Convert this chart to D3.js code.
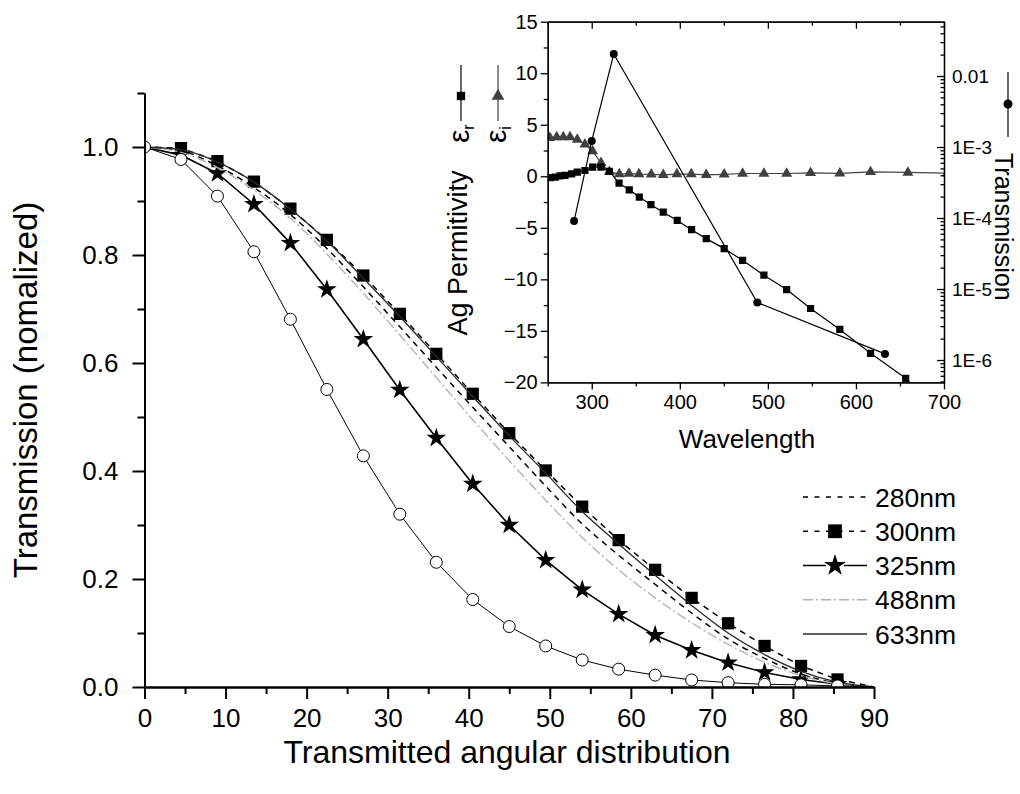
<!DOCTYPE html>
<html><head><meta charset="utf-8">
<script src="https://cdn.jsdelivr.net/npm/d3@7"></script>
<style>
body{margin:0;background:#fff}
svg{display:block}
text{font-family:"Liberation Sans",Arial,Helvetica,sans-serif;fill:#000}
</style>
</head><body>
<svg id="c" width="1020" height="794"></svg>
<script>
// ---------------- main chart data ----------------
const angles = [0,4.5,9,13.5,18,22.5,27,31.5,36,40.5,45,49.5,54,58.5,63,67.5,72,76.5,81,85.5,90];
const t280 = [1.0,0.993,0.965,0.925,0.875,0.812,0.741,0.667,0.592,0.518,0.445,0.372,0.302,0.244,0.190,0.137,0.089,0.053,0.024,0.007,0];
const t300 = [1.0,0.998,0.974,0.936,0.886,0.828,0.762,0.691,0.617,0.543,0.470,0.401,0.334,0.272,0.217,0.165,0.118,0.076,0.039,0.014,0];
const t325 = [1.0,0.985,0.951,0.894,0.822,0.736,0.644,0.550,0.461,0.376,0.300,0.235,0.180,0.135,0.096,0.068,0.045,0.027,0.014,0.005,0];
const t488 = [1.0,0.990,0.962,0.920,0.868,0.802,0.729,0.652,0.573,0.495,0.419,0.346,0.277,0.217,0.165,0.119,0.079,0.046,0.021,0.006,0];
const t633 = [1.0,0.995,0.972,0.935,0.885,0.826,0.757,0.686,0.612,0.538,0.465,0.396,0.325,0.265,0.207,0.151,0.100,0.060,0.029,0.009,0];
const tOpen = [1.0,0.977,0.909,0.806,0.681,0.551,0.428,0.320,0.231,0.162,0.112,0.076,0.050,0.033,0.022,0.013,0.008,0.005,0.004,0.002,0];
const xMajor = [0,10,20,30,40,50,60,70,80,90];
const xMinor = [5,15,25,35,45,55,65,75,85];
const yMajor = [0,0.2,0.4,0.6,0.8,1.0];
const yMinor = [0.1,0.3,0.5,0.7,0.9,1.1];
const legendLabels = ["280nm","300nm","325nm","488nm","633nm"];

// ---------------- inset data ----------------
const erWl = [252.6,258.6,264,269.6,277.2,283.6,292.3,301,310.5,320,331,342.6,354,367.2,381.2,397.1,413.4,430,450.4,471.3,495.5,521.3,548.5,581.7,616.6,656.5,700];
const erVal = [-0.14,-0.09,0.03,0.08,0.24,0.40,0.56,0.88,0.88,0.49,-0.67,-1.31,-2.02,-2.76,-3.48,-4.28,-5.18,-6.05,-7.02,-8.15,-9.6,-10.99,-12.83,-14.86,-17.18,-19.6,-23.4];
const eiWl = [252.6,260.2,267.7,275.3,283.6,292.3,301,310.5,320,331.3,342.3,353.6,367.6,381.2,396.7,413,430,450.4,471.3,495.5,521.3,548.5,581.7,616.6,659,704];
const eiVal = [3.74,3.80,3.80,3.80,3.57,3.10,2.45,1.30,0.43,0.21,0.27,0.21,0.19,0.14,0.21,0.21,0.14,0.19,0.27,0.27,0.27,0.34,0.29,0.42,0.37,0.30];
const trWl = [280,300,325,488,633];
const trVal = [9.1e-5,1.22e-3,2.04e-2,6.45e-6,1.22e-6];
const insXMajor = [300,400,500,600,700];
const insXMinor = [250,350,450,550,650];
const insYMajor = [15,10,5,0,-5,-10,-15,-20];
const insYMinor = [12.5,7.5,2.5,-2.5,-7.5,-12.5,-17.5];
const logMajor = [1e-2,1e-3,1e-4,1e-5,1e-6];
const logLabels = ["0.01","1E-3","1E-4","1E-5","1E-6"];

const svg = d3.select("#c");

// ================= MAIN =================
const x = d3.scaleLinear([0,90],[144.5,874]);
const y = d3.scaleLinear([0,1.1],[687,93]);

svg.append("clipPath").attr("id","mainClip").append("rect")
  .attr("x",x(0)).attr("y",y(1.1)-10).attr("width",x(90)-x(0)+10).attr("height",y(0)-y(1.1)+10);

const gData = svg.append("g").attr("clip-path","url(#mainClip)");

const series = [
  {vals:t280, color:"#000", w:1.5, dash:"6,5", curve:d3.curveMonotoneX},
  {vals:t300, color:"#000", w:1.5, dash:"6,5", curve:d3.curveLinear, marker:"square"},
  {vals:t325, color:"#000", w:1.6, dash:null, curve:d3.curveLinear, marker:"star"},
  {vals:t488, color:"#b4b4b4", w:1.4, dash:"10,3,2,3", curve:d3.curveMonotoneX},
  {vals:t633, color:"#2a2a2a", w:1.3, dash:null, curve:d3.curveMonotoneX},
  {vals:tOpen, color:"#000", w:1.0, dash:null, curve:d3.curveLinear, marker:"circle"}
];
const symSquare = d3.symbol().type(d3.symbolSquare).size(150);
const symStar = d3.symbol().type(d3.symbolStar).size(120);

series.forEach(s=>{
  const pts = angles.map((a,i)=>[a,s.vals[i]]);
  gData.append("path").datum(pts)
    .attr("d", d3.line().x(d=>x(d[0])).y(d=>y(d[1])).curve(s.curve))
    .attr("fill","none").attr("stroke",s.color).attr("stroke-width",s.w)
    .attr("stroke-dasharray",s.dash);
  if(s.marker==="square"||s.marker==="star"){
    const mp = pts.filter(d=>d[0]>0 && d[0]<90);
    gData.selectAll(null).data(mp).enter().append("path")
      .attr("transform",d=>`translate(${x(d[0])},${y(d[1])})`)
      .attr("d", s.marker==="square"?symSquare():symStar())
      .attr("fill","#000");
  }
  if(s.marker==="circle"){
    const mp = pts.filter(d=>d[0]<90);
    gData.selectAll(null).data(mp).enter().append("circle")
      .attr("cx",d=>x(d[0])).attr("cy",d=>y(d[1])).attr("r",6)
      .attr("fill","#fff").attr("stroke","#000").attr("stroke-width",1);
  }
});

// main axes
function styleAxis(g, sw){
  g.selectAll(".domain").attr("stroke","#000").attr("stroke-width",sw);
  g.selectAll(".tick line").attr("stroke","#000").attr("stroke-width",sw);
}
const gxMin = svg.append("g").attr("transform",`translate(0,${y(0)})`)
  .call(d3.axisBottom(x).tickValues(xMinor).tickSize(7).tickSizeOuter(0).tickFormat(""));
styleAxis(gxMin,2);
const gx = svg.append("g").attr("transform",`translate(0,${y(0)})`)
  .call(d3.axisBottom(x).tickValues(xMajor).tickSize(12).tickSizeOuter(0).tickPadding(10).tickFormat(d3.format("d")));
styleAxis(gx,2);
gx.selectAll("text").attr("font-size",26).attr("font-family",null);

const gyMin = svg.append("g").attr("transform",`translate(${x(0)},0)`)
  .call(d3.axisLeft(y).tickValues(yMinor).tickSize(7).tickSizeOuter(0).tickFormat(""));
styleAxis(gyMin,2);
const gy = svg.append("g").attr("transform",`translate(${x(0)},0)`)
  .call(d3.axisLeft(y).tickValues(yMajor).tickSize(12).tickSizeOuter(0).tickPadding(14).tickFormat(d3.format(".1f")));
styleAxis(gy,2);
gy.selectAll("text").attr("font-size",26).attr("font-family",null);

svg.append("text").attr("transform",`translate(37,390) rotate(-90)`)
  .attr("text-anchor","middle").attr("font-size",33).text("Transmission (nomalized)");
svg.append("text").attr("x",507).attr("y",763)
  .attr("text-anchor","middle").attr("font-size",32).text("Transmitted angular distribution");

// main legend
const legY = d3.scaleLinear([0,4],[497,634]);
const legDefs = [
  {dash:"5,6.5", color:"#000", w:1.5},
  {dash:"5,6.5", color:"#000", w:1.5, marker:"square"},
  {dash:null, color:"#000", w:1.6, marker:"star"},
  {dash:"10,3,2,3", color:"#b4b4b4", w:1.4},
  {dash:null, color:"#2a2a2a", w:1.3}
];
legendLabels.forEach((lab,i)=>{
  const cy = legY(i), d = legDefs[i];
  svg.append("line").attr("x1",803).attr("x2",867).attr("y1",cy).attr("y2",cy)
    .attr("stroke",d.color).attr("stroke-width",d.w).attr("stroke-dasharray",d.dash);
  if(d.marker==="square"){
    svg.append("path").attr("transform",`translate(835,${cy})`)
      .attr("d",d3.symbol().type(d3.symbolSquare).size(190)()).attr("fill","#000");
  }
  if(d.marker==="star"){
    svg.append("rect").attr("x",826).attr("y",cy-9).attr("width",18).attr("height",18).attr("fill","#fff");
    svg.append("path").attr("transform",`translate(835,${cy})`)
      .attr("d",d3.symbol().type(d3.symbolStar).size(150)()).attr("fill","#000");
  }
  svg.append("text").attr("x",875).attr("y",cy+9.5).attr("font-size",26.5).text(lab);
});

// ================= INSET =================
const L=547.7, R=944, T=21.7, B=382.4;
const xi = d3.scaleLinear([250,700],[L,R]);
const yi = d3.scaleLinear([-20,15],[B,T]);
const yl = d3.scaleLog([4.84e-7,0.0582],[B,T]);

svg.append("clipPath").attr("id","insClip").append("rect")
  .attr("x",L).attr("y",T).attr("width",R-L).attr("height",B-T);
const gi = svg.append("g").attr("clip-path","url(#insClip)");

// eps_i
gi.append("path").datum(eiWl.map((w,i)=>[w,eiVal[i]]))
  .attr("d",d3.line().x(d=>xi(d[0])).y(d=>yi(d[1])))
  .attr("fill","none").attr("stroke","#444").attr("stroke-width",1.2);
gi.selectAll(null).data(eiWl.map((w,i)=>[w,eiVal[i]])).enter().append("path")
  .attr("transform",d=>`translate(${xi(d[0])},${yi(d[1])})`)
  .attr("d",d3.symbol().type(d3.symbolTriangle).size(52)()).attr("fill","#404040");
// eps_r
gi.append("path").datum(erWl.map((w,i)=>[w,erVal[i]]))
  .attr("d",d3.line().x(d=>xi(d[0])).y(d=>yi(d[1])))
  .attr("fill","none").attr("stroke","#000").attr("stroke-width",1.2);
gi.selectAll(null).data(erWl.map((w,i)=>[w,erVal[i]])).enter().append("path")
  .attr("transform",d=>`translate(${xi(d[0])},${yi(d[1])})`)
  .attr("d",d3.symbol().type(d3.symbolSquare).size(52)()).attr("fill","#000");
// transmission
gi.append("path").datum(trWl.map((w,i)=>[w,trVal[i]]))
  .attr("d",d3.line().x(d=>xi(d[0])).y(d=>yl(d[1])))
  .attr("fill","none").attr("stroke","#000").attr("stroke-width",1.2);
gi.selectAll(null).data(trWl.map((w,i)=>[w,trVal[i]])).enter().append("circle")
  .attr("cx",d=>xi(d[0])).attr("cy",d=>yl(d[1])).attr("r",4).attr("fill","#000");

// inset axes
const SW=1.3;
const ibMin = svg.append("g").attr("transform",`translate(0,${B})`)
  .call(d3.axisBottom(xi).tickValues(insXMinor).tickSize(4).tickSizeOuter(0).tickFormat(""));
styleAxis(ibMin,SW);
const ib = svg.append("g").attr("transform",`translate(0,${B})`)
  .call(d3.axisBottom(xi).tickValues(insXMajor).tickSize(7).tickSizeOuter(0).tickPadding(5).tickFormat(d3.format("d")));
styleAxis(ib,SW);
ib.selectAll("text").attr("font-size",20).attr("font-family",null);

const itMin = svg.append("g").attr("transform",`translate(0,${T})`)
  .call(d3.axisTop(xi).tickValues(insXMinor).tickSize(-4).tickSizeOuter(0).tickFormat(""));
styleAxis(itMin,SW);
const it = svg.append("g").attr("transform",`translate(0,${T})`)
  .call(d3.axisTop(xi).tickValues(insXMajor).tickSize(-7).tickSizeOuter(0).tickFormat(""));
styleAxis(it,SW);

const ilMin = svg.append("g").attr("transform",`translate(${L},0)`)
  .call(d3.axisLeft(yi).tickValues(insYMinor).tickSize(4).tickSizeOuter(0).tickFormat(""));
styleAxis(ilMin,SW);
const il = svg.append("g").attr("transform",`translate(${L},0)`)
  .call(d3.axisLeft(yi).tickValues(insYMajor).tickSize(7).tickSizeOuter(0).tickPadding(3).tickFormat(d3.format("d")));
styleAxis(il,SW);
il.selectAll("text").attr("font-size",20).attr("font-family",null);

const logMinor = [];
[1e-7,1e-6,1e-5,1e-4,1e-3,1e-2].forEach(dec=>{for(let k=2;k<=9;k++){const v=dec*k; if(v>=4.84e-7 && v<=0.0582) logMinor.push(v);}});
const irMin = svg.append("g").attr("transform",`translate(${R},0)`)
  .call(d3.axisRight(yl).tickValues(logMinor).tickSize(-3.5).tickSizeOuter(0).tickFormat(""));
styleAxis(irMin,SW);
const ir = svg.append("g").attr("transform",`translate(${R},0)`)
  .call(d3.axisRight(yl).tickValues(logMajor).tickSize(-7).tickSizeOuter(0).tickPadding(8).tickFormat((d,i)=>logLabels[i]));
styleAxis(ir,SW);
ir.selectAll("text").attr("font-size",19).attr("font-family",null);

// inset titles
svg.append("text").attr("x",747).attr("y",448).attr("text-anchor","middle").attr("font-size",26).text("Wavelength");
svg.append("text").attr("transform",`translate(467,253) rotate(-90)`).attr("text-anchor","middle")
  .attr("font-size",27).text("Ag Permitivity");

// rotated legend items (eps_r, eps_i)
function epsItem(bx, sub, marker, color){
  const g = svg.append("g").attr("transform",`translate(${bx},143) rotate(-90)`);
  const t = g.append("text").attr("x",0).attr("y",0).attr("font-size",30);
  t.append("tspan").text("ε");
  t.append("tspan").attr("font-size",16).attr("dy",5).text(sub);
  g.append("line").attr("x1",22).attr("x2",78).attr("y1",-8).attr("y2",-8).attr("stroke",color).attr("stroke-width",1.2);
  g.append("path").attr("transform","translate(47,-8) rotate(90)")
    .attr("d",d3.symbol().type(marker).size(70)()).attr("fill",color);
}
epsItem(469, "r", d3.symbolSquare, "#000");
epsItem(506, "i", d3.symbolTriangle, "#404040");

// right legend (transmission)
svg.append("line").attr("x1",1008).attr("x2",1008).attr("y1",72).attr("y2",137).attr("stroke","#000").attr("stroke-width",1.2);
svg.append("circle").attr("cx",1008).attr("cy",104).attr("r",4.5).attr("fill","#000");
svg.append("text").attr("transform",`translate(995,153) rotate(90)`).attr("font-size",25).text("Transmission");
</script>
</body></html>
